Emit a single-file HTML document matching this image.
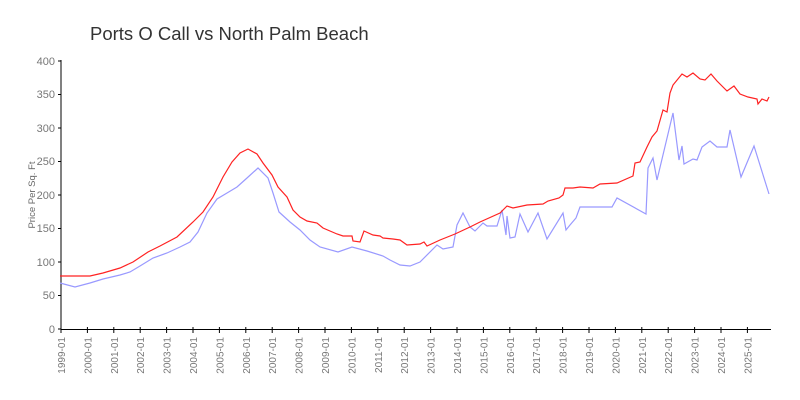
<!DOCTYPE html>
<html><head><style>body{margin:0;background:#fff}svg{display:block}text{font-family:"Liberation Sans",sans-serif}</style></head><body>
<svg width="800" height="400" viewBox="0 0 800 400">
<text x="90" y="40" font-size="18.5" fill="#333">Ports O Call vs North Palm Beach</text>
<text transform="translate(35,195) rotate(-90)" font-size="9.5" fill="#666" text-anchor="middle">Price Per Sq. Ft</text>
<g font-size="11" fill="#777" text-anchor="end">
<text x="55" y="333">0</text><text x="55" y="299">50</text><text x="55" y="266">100</text><text x="55" y="232">150</text><text x="55" y="199">200</text><text x="55" y="165">250</text><text x="55" y="132">300</text><text x="55" y="98">350</text><text x="55" y="65">400</text>
</g>
<g stroke="#000" stroke-width="1">
<line x1="61" y1="60" x2="61" y2="330"/><line x1="61" y1="329.5" x2="771" y2="329.5"/>
<line x1="58" y1="329" x2="61" y2="329"/><line x1="58" y1="295.5" x2="61" y2="295.5"/><line x1="58" y1="262" x2="61" y2="262"/><line x1="58" y1="228.5" x2="61" y2="228.5"/><line x1="58" y1="195" x2="61" y2="195"/><line x1="58" y1="161.5" x2="61" y2="161.5"/><line x1="58" y1="128" x2="61" y2="128"/><line x1="58" y1="94.5" x2="61" y2="94.5"/><line x1="58" y1="61" x2="61" y2="61"/>
</g>
<g id="xt" font-size="10" fill="#777"></g>
<polyline fill="none" stroke="#9999ff" stroke-width="1.2" points="60,283 75,287 90,283 103,279 120,275 130,272 140,266 153,258 167,253 180,247 190,242 198,232 207,213 217,199 227,193 237,187 247,178 258,168 268,178 273,193 279,212 290,222 300,230 310,240 320,247 338,252 352,247 367,251 383,256 390,260 400,265 410,266 420,262 437,245 443,249 453,247 457,225 463,213 470,227 475,231 483,223 487,226 497,226 502,210 506,235 507,216 510,238 515,237 520,214 528,232 538,213 547,239 563,213 566,230 570,225 576,218 580,207 612,207 617,198 646,214 648,168 653,158 657,180 673,113 679,160 682,146 684,164 693,159 697,160 702,147 710,141 717,147 727,147 730,130 741,177 754,146 769,194"/>
<polyline fill="none" stroke="#ff2222" stroke-width="1.2" points="60,276 90,276 103,273 120,268 133,262 148,252 160,246 177,237 193,222 203,212 213,197 223,177 232,162 240,153 248,149 257,154 263,163 272,175 278,187 287,197 293,210 300,217 307,221 317,223 323,228 337,234 343,236 352,236 353,241 360,242 364,231 373,235 380,236 383,238 393,239 400,240 407,245 420,244 424,242 427,246 440,240 455,234 470,227 480,222 500,213 507,206 513,208 527,205 543,204 548,201 559,198 563,195 565,188 573,188 580,187 593,188 600,184 617,183 633,176 635,163 640,162 647,147 652,137 657,131 663,110 667,112 670,93 673,85 682,74 687,77 693,73 700,79 705,80 711,74 717,81 727,91 734,86 740,94 748,97 757,99 758,104 762,99 767,101 769,97"/>
</svg>
<script>
var g=document.getElementById('xt'),s='';
for(var i=0;i<27;i++){var x=61+i*26.4;s+='<line x1="'+x+'" y1="327" x2="'+x+'" y2="333" stroke="#000"/>'+'<text transform="translate('+(x+4)+',337) rotate(-90)" text-anchor="end">'+(1999+i)+'-01</text>';}
g.innerHTML=s;
</script>
</body></html>
